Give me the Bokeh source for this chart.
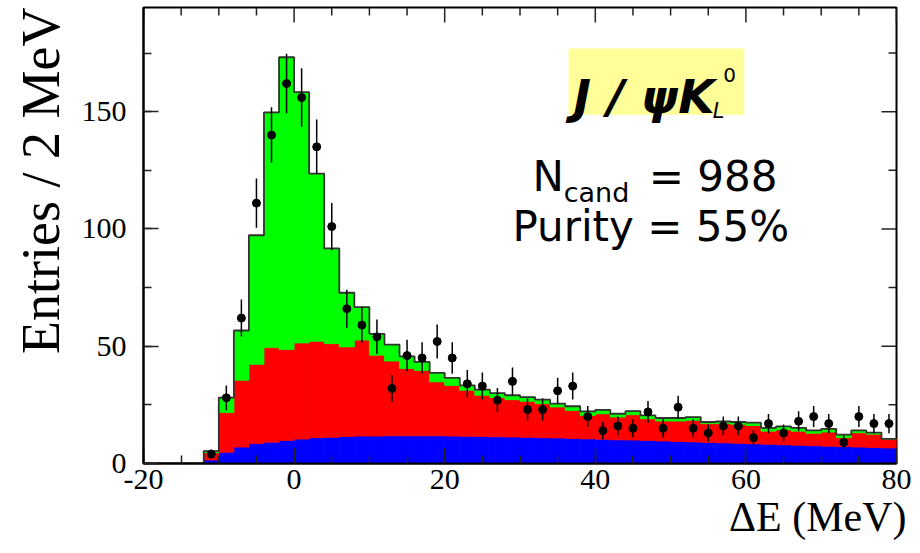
import numpy as np
from bokeh.plotting import figure
from bokeh.models import (FixedTicker, Label, BoxAnnotation, Range1d, ColumnDataSource,
                          Title)
from bokeh.embed import file_html
from bokeh.resources import INLINE

# ---- data (2 MeV bins from -20 to 80) ----
bin_lo = list(range(-20, 80, 2))
blue_bkg = [0, 0, 0, 0,
            1.5, 4.8, 7.0, 8.5, 9.1, 9.8, 10.4, 11.0, 11.2, 11.5,
            11.7, 11.7, 11.8, 11.8, 11.8, 11.8, 11.7, 11.6, 11.5, 11.4,
            11.3, 11.2, 11.0, 10.9, 10.7, 10.5, 10.3, 10.1, 10.0, 9.8,
            9.6, 9.4, 9.2, 9.0, 8.8, 8.6, 8.4, 8.2, 8.0, 7.8,
            7.6, 7.4, 7.2, 7.0, 6.8, 6.6]
red_bkg = [0, 0, 0, 0,
           3.1, 16.9, 28.5, 33.8, 40.3, 38.8, 41.0, 41.1, 39.9, 38.2,
           40.9, 34.5, 31.9, 28.7, 27.9, 23.0, 21.6, 19.6, 17.6, 16.7,
           15.9, 15.3, 14.5, 13.2, 11.9, 10.0, 10.9, 9.7, 10.8, 9.3,
           8.5, 8.7, 9.2, 8.0, 8.2, 8.1, 7.8, 5.6, 6.4, 6.0,
           5.3, 6.0, 3.8, 6.1, 5.7, 3.9]
green_sig = [0, 0, 0, 0,
             0.7, 6.4, 21.2, 55.0, 100.3, 124.6, 106.9, 71.5, 40.6, 23.1,
             14.1, 9.1, 7.0, 5.2, 3.6, 3.8, 3.2, 2.1, 2.4, 1.9,
             1.9, 1.8, 1.7, 1.4, 1.8, 1.7, 1.7, 1.4, 1.5, 1.4,
             1.3, 1.3, 1.4, 0.7, 0.9, 1.0, 1.2, 1.4, 1.4, 1.4,
             1.2, 1.4, 1.3, 1.0, 0.7, 0.0]

data_x = list(range(-11, 80, 2))
data_y = [4, 28, 62, 111, 140, 162, 156, 135, 101, 66,
          59, 54, 32, 46, 45, 52, 45, 34, 33, 27,
          35, 23, 23, 31, 33, 20, 14, 16, 15, 22,
          15, 24, 15, 13, 16, 16, 11, 17, 13, 18,
          20, 17, 9, 20, 17, 17]

x_major = [-20, 0, 20, 40, 60, 80]
x_minor = list(range(-20, 81, 5))
y_major = [0, 50, 100, 150]
y_minor = list(range(0, 195, 25))
XMIN, XMAX, YMIN, YMAX = -20, 80, 0, 194.4

# ---- derived stacks ----
lo = np.array(bin_lo, dtype=float)
hi = lo + 2
b = np.array(blue_bkg)
r = b + np.array(red_bkg)
g = r + np.array(green_sig)

p = figure(width=920, height=553, output_backend="svg", toolbar_location=None,
           x_range=Range1d(XMIN, XMAX), y_range=Range1d(YMIN, YMAX),
           min_border_left=143, min_border_right=24, min_border_top=7,
           min_border_bottom=90, background_fill_color="white",
           border_fill_color="white")
p.xgrid.visible = False
p.ygrid.visible = False
p.outline_line_color = "black"
p.outline_line_width = 2

src = ColumnDataSource(dict(lo=lo, hi=hi, b=b, r=r, g=g, z=np.zeros_like(b)))
p.quad(left="lo", right="hi", bottom="z", top="b", source=src,
       fill_color="#0000FF", line_color="#0000FF", line_width=0.8)
p.quad(left="lo", right="hi", bottom="b", top="r", source=src,
       fill_color="#FF0000", line_color="#FF0000", line_width=0.8)
p.quad(left="lo", right="hi", bottom="r", top="g", source=src,
       fill_color="#00FF00", line_color="#00FF00", line_width=0.8)

edges = list(lo) + [float(XMAX)]
tot = list(g) + [g[-1]]
p.step(x=edges, y=tot, mode="after", line_color="#333333", line_width=1.8)

dy = np.array(data_y, dtype=float)
err = np.sqrt(dy)
dsrc = ColumnDataSource(dict(x=data_x, y=dy, y0=dy - err, y1=dy + err))
p.segment(x0="x", y0="y0", x1="x", y1="y1", source=dsrc,
          line_color="black", line_width=1.5)
p.scatter(x="x", y="y", source=dsrc, size=8, color="black")

# ---- axes ----
xt = FixedTicker(ticks=x_major, minor_ticks=x_minor)
yt = FixedTicker(ticks=y_major, minor_ticks=y_minor)

for ax in (p.xaxis[0], p.yaxis[0]):
    ax.axis_line_color = "black"
    ax.axis_line_width = 2
    ax.major_tick_in = 15
    ax.major_tick_out = 0
    ax.minor_tick_in = 8
    ax.minor_tick_out = 0
    ax.major_tick_line_color = "#222222"
    ax.major_tick_line_width = 1.5
    ax.minor_tick_line_color = "#222222"
    ax.minor_tick_line_width = 1.5
    ax.major_label_text_font = "Liberation Serif"
    ax.major_label_text_font_size = "30px"
    ax.major_label_text_color = "black"

p.xaxis.ticker = xt
p.yaxis.ticker = yt
p.xaxis[0].major_label_overrides = {t: str(t) for t in x_major}
p.xaxis[0].major_label_standoff = 6
p.yaxis[0].major_label_standoff = 17

# axis titles, aligned to the far end of each axis (ROOT style)
p.add_layout(Title(text="ΔE (MeV)", align="right", text_font="Liberation Serif",
                   text_font_size="42px", text_font_style="normal",
                   text_color="black", standoff=0, offset=-10), "below")
p.add_layout(Title(text="Entries / 2 MeV", align="right",
                   text_font="Liberation Serif", text_font_size="54px",
                   text_font_style="normal", text_color="black",
                   standoff=16), "left")

# ticks on the opposite (top / right) sides, pointing inward
xmin_only = [t for t in x_minor if t not in x_major]
ymin_only = [t for t in y_minor if t not in y_major]
p.ray(x=x_major, y=[YMAX] * len(x_major), length=15, length_units="screen",
      angle=-np.pi / 2, line_color="#222222", line_width=1.5)
p.ray(x=xmin_only, y=[YMAX] * len(xmin_only), length=8, length_units="screen",
      angle=-np.pi / 2, line_color="#222222", line_width=1.5)
p.ray(x=[XMAX] * len(y_major), y=y_major, length=15, length_units="screen",
      angle=np.pi, line_color="#222222", line_width=1.5)
p.ray(x=[XMAX] * len(ymin_only), y=ymin_only, length=8, length_units="screen",
      angle=np.pi, line_color="#222222", line_width=1.5)

# ---- texts ----
p.add_layout(BoxAnnotation(left=36.44, right=59.8, bottom=148.7, top=176.9,
                           fill_color="#FFFF99", fill_alpha=1.0, line_color=None,
                           level="underlay"))


def lab(x, y, t, size, style="normal"):
    p.add_layout(Label(x=x, y=y, text=t, text_align="left",
                       text_baseline="alphabetic", text_font="DejaVu Sans",
                       text_font_size=size, text_font_style=style,
                       text_color="black"))


lab(37.1, 156.4, "J / ψK", "47px", "bold italic")
lab(55.6, 150.4, "L", "21px", "italic")
lab(57.0, 165.8, "0", "20px")
lab(31.66, 122.2, "N", "42px")
lab(35.8, 115.4, "cand", "27px")
lab(47.1, 122.2, "= 988", "42px")
lab(29.0, 100.9, "Purity = 55%", "42px")

open("out.html", "w").write(file_html(p, INLINE))
